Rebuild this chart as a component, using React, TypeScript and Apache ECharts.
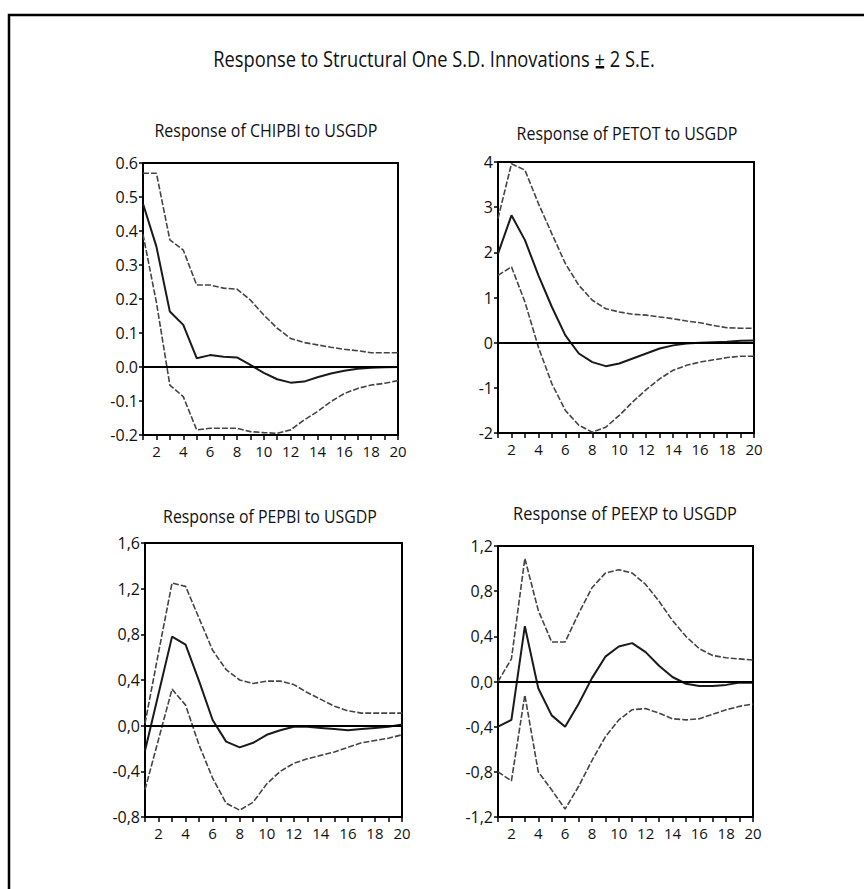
import React, { useEffect, useRef } from 'react';
import * as echarts from 'echarts';

const FONT = "'Open Sans', 'Noto Sans', 'DejaVu Sans', sans-serif";
const AXIS_FONT = "'Open Sans', 'Noto Sans', 'DejaVu Sans', sans-serif";

const periods = [1, 2, 3, 4, 5, 6, 7, 8, 9, 10, 11, 12, 13, 14, 15, 16, 17, 18, 19, 20];

const mainTitle = 'Response to Structural One S.D. Innovations + 2 S.E.';
const panelTitles = [
  'Response of CHIPBI to USGDP',
  'Response of PETOT to USGDP',
  'Response of PEPBI to USGDP',
  'Response of PEEXP to USGDP',
];

// Response of CHIPBI to USGDP
const chipbiUpper = [0.57, 0.57, 0.374, 0.344, 0.241, 0.241, 0.232, 0.229, 0.197, 0.153, 0.114, 0.084, 0.072, 0.065, 0.058, 0.052, 0.048, 0.042, 0.042, 0.042];
const chipbiResponse = [0.48, 0.354, 0.163, 0.124, 0.026, 0.035, 0.03, 0.028, 0.006, -0.017, -0.036, -0.046, -0.043, -0.03, -0.019, -0.011, -0.005, -0.002, -0.001, 0.0];
const chipbiLower = [0.39, 0.19, -0.053, -0.087, -0.185, -0.18, -0.18, -0.18, -0.19, -0.193, -0.195, -0.185, -0.156, -0.131, -0.102, -0.078, -0.063, -0.053, -0.048, -0.04];

// Response of PETOT to USGDP
const petotUpper = [2.75, 3.96, 3.82, 3.08, 2.41, 1.75, 1.27, 0.94, 0.75, 0.68, 0.63, 0.61, 0.57, 0.53, 0.48, 0.44, 0.38, 0.33, 0.32, 0.32];
const petotResponse = [1.97, 2.82, 2.27, 1.49, 0.79, 0.16, -0.24, -0.43, -0.52, -0.46, -0.35, -0.24, -0.13, -0.06, -0.02, 0.0, 0.01, 0.02, 0.04, 0.05];
const petotLower = [1.49, 1.68, 0.9, -0.1, -0.91, -1.5, -1.83, -1.98, -1.87, -1.61, -1.31, -1.04, -0.8, -0.61, -0.5, -0.43, -0.38, -0.33, -0.3, -0.3];

// Response of PEPBI to USGDP
const pepbiUpper = [0.02, 0.64, 1.25, 1.22, 0.94, 0.66, 0.49, 0.4, 0.37, 0.39, 0.39, 0.36, 0.29, 0.23, 0.17, 0.13, 0.11, 0.11, 0.11, 0.11];
const pepbiResponse = [-0.22, 0.28, 0.78, 0.71, 0.39, 0.05, -0.14, -0.19, -0.15, -0.08, -0.04, -0.01, -0.01, -0.02, -0.03, -0.04, -0.03, -0.02, -0.01, 0.01];
const pepbiLower = [-0.56, -0.12, 0.32, 0.18, -0.17, -0.46, -0.68, -0.74, -0.67, -0.51, -0.4, -0.33, -0.29, -0.26, -0.23, -0.19, -0.15, -0.13, -0.11, -0.08];

// Response of PEEXP to USGDP
const peexpUpper = [0.0, 0.2, 1.09, 0.63, 0.35, 0.35, 0.6, 0.83, 0.96, 0.99, 0.96, 0.86, 0.71, 0.54, 0.4, 0.29, 0.23, 0.21, 0.2, 0.19];
const peexpResponse = [-0.4, -0.34, 0.49, -0.06, -0.3, -0.4, -0.2, 0.03, 0.22, 0.31, 0.34, 0.26, 0.14, 0.04, -0.02, -0.04, -0.04, -0.03, -0.01, -0.01];
const peexpLower = [-0.8, -0.88, -0.12, -0.8, -0.96, -1.13, -0.93, -0.7, -0.49, -0.34, -0.25, -0.24, -0.28, -0.33, -0.34, -0.33, -0.29, -0.25, -0.22, -0.2];

// y-axis scales
const yMins = [-0.2, -2, -0.8, -1.2];
const yMaxs = [0.6, 4, 1.6, 1.2];
const yIntervals = [0.1, 1, 0.4, 0.4];
const yDecimals = [1, 0, 1, 1];
const yDecimalSep = ['.', '.', ',', ','];

const panels = [
  { upper: chipbiUpper, response: chipbiResponse, lower: chipbiLower },
  { upper: petotUpper, response: petotResponse, lower: petotLower },
  { upper: pepbiUpper, response: pepbiResponse, lower: pepbiLower },
  { upper: peexpUpper, response: peexpResponse, lower: peexpLower },
];

const grids = [
  { left: 143, top: 163, width: 255, height: 272 },
  { left: 498, top: 162, width: 256, height: 271 },
  { left: 145, top: 543, width: 257, height: 274 },
  { left: 498, top: 546, width: 255, height: 271 },
];

const titlePos = [
  { x: 266, y: 129 },
  { x: 627, y: 132 },
  { x: 270, y: 515 },
  { x: 625, y: 513 },
];
const titleWidths = [223, 221, 214, 224];

function measure(text: string, size: number): number {
  const c = document.createElement('canvas').getContext('2d');
  if (!c) return text.length * size * 0.55;
  c.font = `${size}px ${FONT}`;
  return c.measureText(text).width;
}

export default function App() {
  const ref = useRef<HTMLDivElement>(null);

  useEffect(() => {
    if (!ref.current) return;
    const chart = echarts.init(ref.current, undefined, { renderer: 'svg' });

    const textColor = '#111';
    const xAxis: any[] = [];
    const yAxis: any[] = [];
    const series: any[] = [];

    grids.forEach((_, i) => {
      xAxis.push({
        type: 'value',
        gridIndex: i,
        min: 1,
        max: 20,
        interval: 1,
        axisLine: { show: true, onZero: false, lineStyle: { color: '#000', width: 2 } },
        axisTick: { show: true, inside: false, length: 5, lineStyle: { color: '#000', width: 1.5 } },
        axisLabel: {
          color: textColor,
          fontSize: 15,
          fontFamily: AXIS_FONT,
          margin: 8,
          formatter: (v: number) => (Math.round(v) % 2 === 0 ? String(Math.round(v)) : ''),
        },
        splitLine: { show: false },
      });
      yAxis.push({
        type: 'value',
        gridIndex: i,
        min: yMins[i],
        max: yMaxs[i],
        interval: yIntervals[i],
        axisLine: { show: true, onZero: false, lineStyle: { color: '#000', width: 2 } },
        axisTick: { show: true, inside: false, length: 4, lineStyle: { color: '#000', width: 1.5 } },
        axisLabel: {
          color: textColor,
          fontSize: 16,
          fontFamily: AXIS_FONT,
          margin: 5,
          formatter: (v: number) => {
            const val = Math.abs(v) < 1e-9 ? 0 : v;
            return val.toFixed(yDecimals[i]).replace('.', yDecimalSep[i]);
          },
        },
        splitLine: { show: false },
      });

      const p = panels[i];
      const mk = (arr: number[]) => periods.map((t, k) => [t, arr[k]]);
      series.push({
        type: 'line',
        xAxisIndex: i,
        yAxisIndex: i,
        data: mk(p.upper),
        symbol: 'none',
        lineStyle: { color: '#444', width: 1.6, type: [6, 2] },
        z: 3,
      });
      series.push({
        type: 'line',
        xAxisIndex: i,
        yAxisIndex: i,
        data: mk(p.lower),
        symbol: 'none',
        lineStyle: { color: '#444', width: 1.6, type: [6, 2] },
        z: 3,
      });
      series.push({
        type: 'line',
        xAxisIndex: i,
        yAxisIndex: i,
        data: mk(p.response),
        symbol: 'none',
        lineStyle: { color: '#1a1a1a', width: 2 },
        z: 4,
        markLine: {
          silent: true,
          symbol: 'none',
          label: { show: false },
          lineStyle: { color: '#000', width: 2, type: 'solid' },
          data: [{ yAxis: 0 }],
          z: 5,
        },
      });
    });

    const titleSize = 22;
    const titleX = 434;
    const titleY = 58;
    const titleTargetW = 442;
    const totalW = measure(mainTitle, titleSize);
    const sx = titleTargetW / totalW;
    const plusIdx = mainTitle.indexOf('+');
    const prefixW = measure(mainTitle.slice(0, plusIdx), titleSize);
    const plusW = measure('+', titleSize);
    const plusStart = titleX + sx * (prefixW - totalW / 2);

    const graphic: any[] = [
      {
        type: 'rect',
        shape: { x: 9, y: 15, width: 900, height: 900 },
        style: { fill: 'none', stroke: '#000', lineWidth: 2.5 },
        silent: true,
      },
      {
        type: 'text',
        x: titleX,
        y: titleY,
        scaleX: sx,
        style: {
          text: mainTitle,
          fill: textColor,
          fontSize: titleSize,
          fontFamily: FONT,
          align: 'center',
          verticalAlign: 'middle',
        },
      },
      {
        type: 'rect',
        shape: { x: plusStart + 1, y: titleY + 8, width: Math.max(sx * plusW - 2, 6), height: 2.5 },
        style: { fill: '#000' },
        silent: true,
      },
    ];
    const subSize = 19;
    panelTitles.forEach((t, i) => {
      const w = measure(t, subSize);
      graphic.push({
        type: 'text',
        x: titlePos[i].x,
        y: titlePos[i].y,
        scaleX: titleWidths[i] / w,
        style: {
          text: t,
          fill: textColor,
          fontSize: subSize,
          fontFamily: FONT,
          align: 'center',
          verticalAlign: 'middle',
        },
      });
    });

    chart.setOption({
      animation: false,
      backgroundColor: '#fff',
      grid: grids.map((g) => ({ ...g, show: true, borderColor: '#000', borderWidth: 2, backgroundColor: 'transparent', containLabel: false })),
      xAxis,
      yAxis,
      series,
      graphic,
    });

    return () => chart.dispose();
  }, []);

  return (
    <div
      ref={ref}
      style={{ position: 'fixed', left: 0, top: 0, width: 864, height: 889, background: '#fff' }}
    />
  );
}
